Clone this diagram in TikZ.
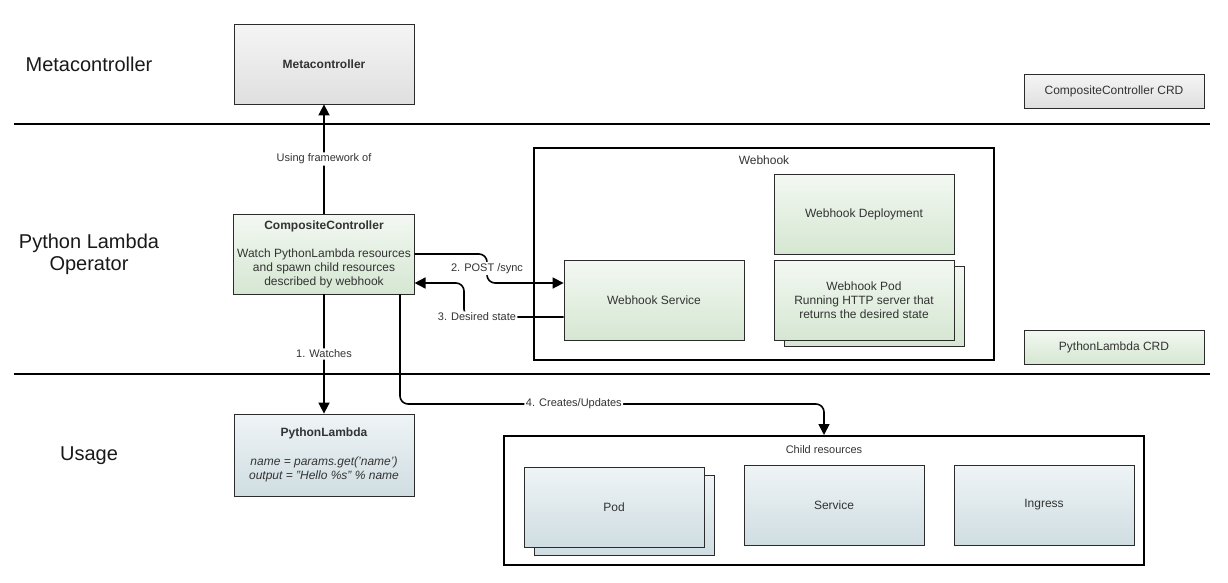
\documentclass[tikz,border=0pt]{standalone}
\usepackage{fontspec}
\setmainfont{Liberation Sans}
\usetikzlibrary{arrows.meta,positioning}

\definecolor{txt}{HTML}{333333}
\definecolor{edgeline}{HTML}{2B2B2B}
\definecolor{grayT}{HTML}{F5F5F5}
\definecolor{grayB}{HTML}{DFDFDF}
\definecolor{greenT}{HTML}{F3F8F2}
\definecolor{greenB}{HTML}{D5E7D2}
\definecolor{blueT}{HTML}{EFF4F6}
\definecolor{blueB}{HTML}{CFDDE2}

\begin{document}
\begin{tikzpicture}[x=1pt, y=-1pt,
      crbox/.style={draw=edgeline, line width=0.8pt, minimum width=180pt, minimum height=80pt,
          align=center, text=txt, font=\fontsize{12}{14}\selectfont},
      graybox/.style={crbox, top color=grayT, bottom color=grayB},
      greenbox/.style={crbox, top color=greenT, bottom color=greenB},
      bluebox/.style={crbox, top color=blueT, bottom color=blueB},
      crd/.style={minimum height=34pt},
      groupbox/.style={draw=black, line width=2pt},
      grouplbl/.style={text=txt, font=\fontsize{12}{14}\selectfont},
      lane/.style={align=center, text=black!90, font=\fontsize{20}{22}\selectfont},
      laneline/.style={line width=2pt},
      flow/.style={draw=black, line width=1.6pt, rounded corners=8pt, -{Triangle[length=11pt,width=11pt]}},
      elbl/.style={fill=white, inner sep=1.5pt, text=txt, font=\fontsize{11}{13}\selectfont}]
    \useasboundingbox (0,0) rectangle (1228,582);

    % lanes
    \node[lane] (lanemc) at (89,64) {Metacontroller};
    \node[lane] (laneop) at (89,254) {Python Lambda\\Operator};
    \node[lane] (laneuse) at (89,456) {Usage};
    \draw[laneline] (14,124) -- (1210,124);
    \draw[laneline] (14,374) -- (1210,374);

    % metacontroller
    \node[graybox, font=\fontsize{12}{14}\selectfont\bfseries] (mc) at (324,64) {Metacontroller};
    \node[graybox, crd] (cccrd) at (1114,91) {CompositeController CRD};

    % operator
    \node[greenbox] (cc) at (324,254) {\textbf{CompositeController}\\[14pt]
        Watch PythonLambda resources\\and spawn child resources\\described by webhook};
    \node[groupbox, minimum width=460pt, minimum height=212pt] (webhook) at (764,253.5) {};
    \node[grouplbl] (webhooklbl) at ([yshift=-14pt]webhook.north) {Webhook};
    \node[greenbox] (wdeploy) at (864,214) {Webhook Deployment};
    \node[greenbox] (wpodback) at (874,306) {};
    \node[greenbox] (wpod) at (864,300) {Webhook Pod\\Running HTTP server that\\returns the desired state};
    \node[greenbox] (ws) at (654,300) {Webhook Service};
    \node[greenbox, crd] (plcrd) at (1114,347) {PythonLambda CRD};

    % usage
    \node[bluebox, minimum height=82pt] (pl) at (324,455) {\textbf{PythonLambda}\\[15pt]
        \textit{name = params.get('name')}\\\textit{output = "Hello \%s" \% name}};
    \node[groupbox, minimum width=640pt, minimum height=129pt] (child) at (824,500.5) {};
    \node[grouplbl, font=\fontsize{11}{13}\selectfont] (childlbl) at ([yshift=-15pt]child.north) {Child resources};
    \node[bluebox] (podback) at (624,515) {};
    \node[bluebox] (pod) at (614,507) {Pod};
    \node[bluebox] (svc) at (834,505) {Service};
    \node[bluebox] (ing) at (1044,505) {Ingress};

    % connectors
    \coordinate (post) at (487,283);
    \coordinate (desired) at (464,283);
    \coordinate (upd) at (400,404);
    \draw[flow] (cc.north) -- node[elbl] {Using framework of} (mc.south);
    \draw[flow] (cc.south) -- node[elbl] {1. Watches} (pl.north);
    \draw[flow] (cc.east) -| node[elbl, pos=0.75] {2. POST /sync} (post) -- ([yshift=17pt]ws.west);
    \draw[flow] ([yshift=-17pt]ws.west) -| node[elbl, pos=0.435] {3. Desired state} (desired)
        -- ([yshift=-29pt]cc.east);
    \draw[flow] (cc.south -| upd) -- (upd) -| node[elbl, pos=0.205] {4. Creates/Updates} (child.north);
\end{tikzpicture}
\end{document}
